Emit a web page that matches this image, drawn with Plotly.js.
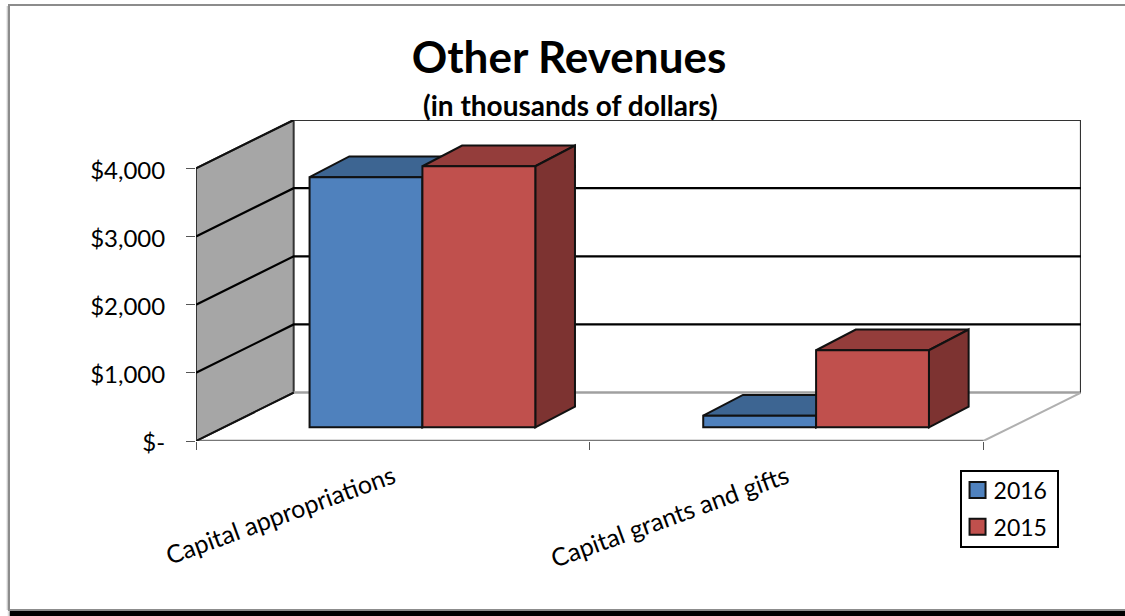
<!DOCTYPE html>
<html>
<head>
<meta charset="utf-8">
<script src="https://cdn.plot.ly/plotly-3.0.1.min.js"></script>
<style>
  html, body { margin: 0; padding: 0; background: #fff; overflow: hidden; }
  #stage { position: relative; width: 1125px; height: 616px; overflow: hidden; background: #fff; }
  #edge { position: absolute; left: 6px; top: 6px; width: 3px; height: 604px;
          background: linear-gradient(to right, #fff, #9a9a9a); }
  #card { position: absolute; left: 8px; top: 4px; width: 1140px; height: 603px;
          border: 2px solid #8c8c8c; background: #fff; }
  #ground { position: absolute; left: 10px; top: 610px; width: 1120px; height: 8px; background: #000;
            box-shadow: 0 0 3px #000; }
  #chart { position: absolute; left: 0; top: 0; width: 1125px; height: 616px; }
</style>
</head>
<body>
<div id="stage">
  <div id="ground"></div>
  <div id="edge"></div>
  <div id="card"></div>
  <div id="chart"></div>
</div>
<script>
// Revenue figures, thousands of dollars
const categories = ['Capital appropriations', 'Capital grants and gifts'];
const values2016 = [3670, 170];
const values2015 = [3830, 1130];
const valueTicks = [0, 1000, 2000, 3000, 4000];
const valueTickLabels = ['$-', '$1,000', '$2,000', '$3,000', '$4,000'];

// Scale of the data units, used to express the oblique projection
const PX_PER_CATEGORY = 393.8;
const PX_PER_VALUE = 0.068;
const px2x = p => p / PX_PER_CATEGORY;
const px2y = p => p / PX_PER_VALUE;

// Oblique depth of the box that holds the chart
const WALL_DX = px2x(97.7), WALL_DY = px2y(48.3);
// Bars sit part way into the box and have their own depth
const BAR_SHIFT_X = px2x(29.6), BAR_BASE = px2y(13.7);
const BAR_DX = px2x(39.7), BAR_DY = px2y(20.7);
const BAR_W = px2x(112.9);

const XMAX = categories.length;
const YMAX = valueTicks[valueTicks.length - 1];

function poly(xs, ys, fill, line, width, zorder) {
  return { type: 'scatter', mode: line ? 'lines' : 'none', x: xs, y: ys,
           fill: fill ? 'toself' : 'none', fillcolor: fill || undefined,
           line: { color: line || 'rgba(0,0,0,0)', width: width || 1, simplify: false },
           hoverinfo: 'skip', showlegend: false, cliponaxis: false, zorder: zorder };
}

const traces = [];

// Side wall, floor edges and back wall outline
traces.push(poly([0, WALL_DX, WALL_DX, 0, 0], [0, WALL_DY, YMAX + WALL_DY, YMAX, 0], '#a6a6a6', '#333', 2, -5));
traces.push(poly([WALL_DX, XMAX + WALL_DX], [WALL_DY, WALL_DY], null, '#a0a0a0', 2.5, -5));
traces.push(poly([XMAX, XMAX + WALL_DX], [0, WALL_DY], null, '#b0b0b0', 2, -5));
traces.push(poly([0, XMAX], [0, 0], null, '#777', 2.5, -4));
traces.push(poly([WALL_DX, XMAX + WALL_DX, XMAX + WALL_DX], [YMAX + WALL_DY, YMAX + WALL_DY, WALL_DY], null, '#333', 2.2, -5));

// Gridlines bend from the side wall on to the back wall
valueTicks.slice(1, -1).forEach(v => {
  traces.push(poly([0, WALL_DX, XMAX + WALL_DX], [v, v + WALL_DY, v + WALL_DY], null, '#000', 2.2, -4));
});
traces.push(poly([0, WALL_DX], [0, WALL_DY], null, '#111', 2, -4));
traces.push(poly([0, WALL_DX], [YMAX, YMAX + WALL_DY], null, '#111', 2, -4));

// One bar series: the shaded top and side faces, then the front face as a real bar
function addSeries(name, values, seriesIndex, front, top, side) {
  const baseZ = 1 + seriesIndex * 2;
  const centers = values.map((_, i) => i + 0.5 + BAR_SHIFT_X);
  values.forEach((v, i) => {
    const x0 = centers[i] + (seriesIndex - 1) * BAR_W;
    const x1 = x0 + BAR_W;
    const yTop = BAR_BASE + v;
    traces.push(poly([x0, x1, x1 + BAR_DX, x0 + BAR_DX, x0],
                     [yTop, yTop, yTop + BAR_DY, yTop + BAR_DY, yTop], top, '#111', 2, baseZ));
    traces.push(poly([x1, x1 + BAR_DX, x1 + BAR_DX, x1, x1],
                     [yTop, yTop + BAR_DY, BAR_BASE + BAR_DY, BAR_BASE, yTop], side, '#111', 2, baseZ));
  });
  traces.push({ type: 'bar', name: name, x: centers, y: values, base: BAR_BASE,
                width: BAR_W, offset: (seriesIndex - 1) * BAR_W,
                marker: { color: front, line: { color: '#111', width: 2 } },
                hoverinfo: 'skip', zorder: baseZ + 1, cliponaxis: false });
}
addSeries('2016', values2016, 0, '#4f81bd', '#3d6592', '#34567d');
addSeries('2015', values2015, 1, '#c0504d', '#943d3b', '#7d3331');

const labelFont = { family: 'Lato, "Open Sans", sans-serif', color: '#000' };
const W = 1125, H = 616, L = 195.7, T = 120, B = 174.5;
const R = W - L - (XMAX + WALL_DX) * PX_PER_CATEGORY;

const layout = {
  width: W, height: H, autosize: false,
  margin: { l: L, r: R, t: T, b: B, pad: 0 },
  paper_bgcolor: 'rgba(0,0,0,0)', plot_bgcolor: 'rgba(0,0,0,0)',
  barmode: 'overlay',
  font: labelFont,
  title: {
    text: '<b>Other Revenues</b>', x: 569 / W, xref: 'container', xanchor: 'center',
    y: 1 - 58 / H, yref: 'container', yanchor: 'middle',
    font: Object.assign({}, labelFont, { size: 44 })
  },
  annotations: [{
    text: '<b>(in thousands of dollars)</b>', xref: 'paper', yref: 'paper',
    x: (570 - L) / (W - L - R), xanchor: 'center', y: 1 + (120 - 105) / (H - T - B), yanchor: 'middle',
    showarrow: false, font: Object.assign({}, labelFont, { size: 28 })
  }],
  xaxis: {
    type: 'linear', range: [0, XMAX + WALL_DX], fixedrange: true,
    showgrid: false, zeroline: false, showline: false,
    tickmode: 'array', tickvals: categories.map((_, i) => i + 0.5), ticktext: categories,
    ticks: '', tickangle: -20, tickfont: Object.assign({}, labelFont, { size: 25 }),
    ticklabelstandoff: 16,
    minor: { ticks: 'outside', ticklen: 8, tickwidth: 1, tickcolor: '#555', tickmode: 'array',
             tickvals: [0, 1, 2], showgrid: false }
  },
  yaxis: {
    type: 'linear', range: [0, YMAX + WALL_DY], fixedrange: true,
    showgrid: false, zeroline: false, showline: false,
    tickmode: 'array', tickvals: valueTicks, ticktext: valueTickLabels,
    ticks: 'outside', ticklen: 9, tickwidth: 1, tickcolor: '#555',
    tickfont: Object.assign({}, labelFont, { size: 24 }), ticklabelstandoff: 16, ticklabelshift: 2
  },
  showlegend: true,
  legend: {
    x: (959.5 - L) / (W - L - R), xanchor: 'left',
    y: (441.5 - 471) / (H - T - B), yanchor: 'top',
    bordercolor: '#000', borderwidth: 2, bgcolor: '#fff',
    font: Object.assign({}, labelFont, { size: 23 }),
    itemwidth: 30, entrywidth: 48, entrywidthmode: 'pixels', traceorder: 'normal',
    itemclick: false, itemdoubleclick: false
  }
};

Plotly.newPlot('chart', traces, layout, { displayModeBar: false, staticPlot: true }).then(gd => {
  // Larger legend swatches sitting closer to their labels, in a tighter box
  gd.querySelectorAll('.legend .legendpoints path').forEach(p => {
    p.setAttribute('d', 'M8,8H-8V-8H8Z');
    p.style.strokeWidth = '2px';
    p.setAttribute('transform', 'translate(16,0)');
  });
  gd.querySelectorAll('.legend text.legendtext').forEach(t => {
    t.setAttribute('x', +t.getAttribute('x') - 8);
  });
  const box = gd.querySelector('.legend rect.bg');
  box.setAttribute('width', 97);
  box.setAttribute('height', 75.5);
  gd.querySelector('.legend .scrollbox').setAttribute('transform', 'translate(0,-4)');
  // Open up the spacing between the two rows
  const rows = gd.querySelectorAll('.legend .traces');
  const m = /translate\(([-\d.]+),\s*([-\d.]+)\)/.exec(rows[1].getAttribute('transform'));
  rows[1].setAttribute('transform', 'translate(' + m[1] + ',' + (+m[2] + 4) + ')');
});
</script>
</body>
</html>
